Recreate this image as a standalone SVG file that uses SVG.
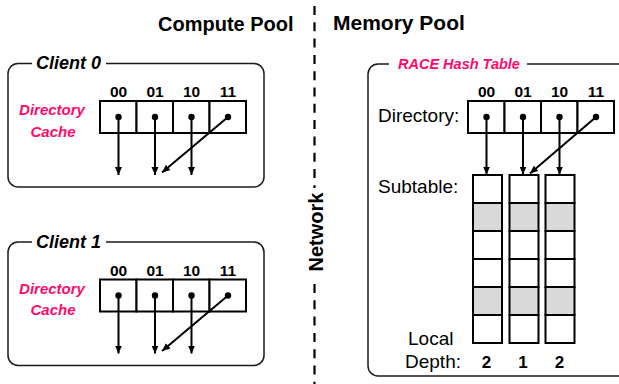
<svg xmlns="http://www.w3.org/2000/svg" width="619" height="384" viewBox="0 0 619 384">
  <defs>
    <marker id="arrow" markerUnits="userSpaceOnUse" markerWidth="9" markerHeight="8" refX="8" refY="3.5" orient="auto">
      <path d="M0,0 L8,3.5 L0,7 z" fill="#000"/>
    </marker>
    <style>
      text { font-family: "Liberation Sans", Arial, sans-serif; fill: #000; }
      .title { font-size: 20px; font-weight: bold; }
      .frame { fill: none; stroke: #1a1a1a; stroke-width: 1.5; }
      .label { font-size: 18px; font-weight: bold; font-style: italic; }
      .pink { fill: #ff0a6c; font-size: 15px; font-weight: bold; font-style: italic; }
      .bits { font-size: 15.5px; font-weight: bold; text-anchor: middle; }
      .plain { font-size: 19px; }
      .cell { fill: #fff; stroke: #000; stroke-width: 2; }
      .shade { fill: #d9d9d9; stroke: #000; stroke-width: 2; }
      .dot { fill: #000; }
      .ptr { stroke: #000; stroke-width: 2; fill: none; marker-end: url(#arrow); }
      .dash { stroke: #000; stroke-width: 2.2; stroke-dasharray: 9 7.3; }
    </style>
    <!-- four-slot directory cache with its pointer dots -->
    <g id="dirRow">
      <rect class="cell" x="100" y="101" width="36.5" height="32"/>
      <rect class="cell" x="136.5" y="101" width="36.5" height="32"/>
      <rect class="cell" x="173" y="101" width="36.5" height="32"/>
      <rect class="cell" x="209.5" y="101" width="36.5" height="32"/>
      <circle class="dot" cx="118.5" cy="117" r="3.2"/>
      <circle class="dot" cx="155" cy="117" r="3.2"/>
      <circle class="dot" cx="191.5" cy="117" r="3.2"/>
      <circle class="dot" cx="228" cy="117" r="3.2"/>
      <text class="bits" x="118.5" y="97">00</text>
      <text class="bits" x="155" y="97">01</text>
      <text class="bits" x="191.5" y="97">10</text>
      <text class="bits" x="228" y="97">11</text>
    </g>
  </defs>

  <!-- pool headings -->
  <text class="title" x="158" y="31">Compute Pool</text>
  <text class="title" x="333" y="30" style="font-size:21px">Memory Pool</text>

  <!-- network divider -->
  <g id="network">
    <line class="dash" x1="314.5" y1="6" x2="314.5" y2="188"/>
    <line class="dash" x1="314.5" y1="284" x2="314.5" y2="384"/>
    <text class="title" transform="translate(323,232) rotate(-90)" text-anchor="middle">Network</text>
  </g>

  <!-- client 0 -->
  <g id="client0">
    <path class="frame" d="M106,63.5 H254 A10,10 0 0 1 264,73.5 V177 A10,10 0 0 1 254,187 H18 A10,10 0 0 1 8,177 V73.5 A10,10 0 0 1 18,63.5 H32"/>
    <text class="label" x="36" y="69">Client 0</text>
    <text class="pink" x="52" y="115" text-anchor="middle">Directory</text>
    <text class="pink" x="53" y="136.5" text-anchor="middle">Cache</text>
    <use href="#dirRow"/>
  </g>

  <!-- client 1 -->
  <g id="client1">
    <path class="frame" d="M106,242 H254 A10,10 0 0 1 264,252 V355.5 A10,10 0 0 1 254,365.5 H18 A10,10 0 0 1 8,355.5 V252 A10,10 0 0 1 18,242 H32"/>
    <text class="label" x="36" y="247.5">Client 1</text>
    <text class="pink" x="52" y="293.5" text-anchor="middle">Directory</text>
    <text class="pink" x="53" y="315" text-anchor="middle">Cache</text>
    <use href="#dirRow" transform="translate(0,178.5)"/>
  </g>

  <!-- RACE hash table in the memory pool -->
  <g id="race">
    <path class="frame" d="M527,64 H630 V376 H378 A10,10 0 0 1 368,366 V74 A10,10 0 0 1 378,64 H389"/>
    <text class="pink" x="398" y="68.5" style="font-size:14.5px">RACE Hash Table</text>
  </g>

  <g id="directory">
    <text class="plain" x="378" y="122">Directory:</text>
    <use href="#dirRow" transform="translate(368,0)"/>
  </g>

  <g id="subtables">
    <text class="plain" x="378" y="193">Subtable:</text>
    <g id="sub0">
      <rect class="cell" x="473" y="175" width="29" height="28"/>
      <rect class="shade" x="473" y="203" width="29" height="28"/>
      <rect class="cell" x="473" y="231" width="29" height="28"/>
      <rect class="cell" x="473" y="259" width="29" height="28"/>
      <rect class="shade" x="473" y="287" width="29" height="28"/>
      <rect class="cell" x="473" y="315" width="29" height="28"/>
    </g>
    <g id="sub1">
      <rect class="cell" x="509.5" y="175" width="29" height="28"/>
      <rect class="shade" x="509.5" y="203" width="29" height="28"/>
      <rect class="cell" x="509.5" y="231" width="29" height="28"/>
      <rect class="cell" x="509.5" y="259" width="29" height="28"/>
      <rect class="shade" x="509.5" y="287" width="29" height="28"/>
      <rect class="cell" x="509.5" y="315" width="29" height="28"/>
    </g>
    <g id="sub2">
      <rect class="cell" x="545.5" y="175" width="29" height="28"/>
      <rect class="shade" x="545.5" y="203" width="29" height="28"/>
      <rect class="cell" x="545.5" y="231" width="29" height="28"/>
      <rect class="cell" x="545.5" y="259" width="29" height="28"/>
      <rect class="shade" x="545.5" y="287" width="29" height="28"/>
      <rect class="cell" x="545.5" y="315" width="29" height="28"/>
    </g>
    <text class="plain" x="408" y="345">Local</text>
    <text class="plain" x="405" y="368">Depth:</text>
    <text class="bits" x="486.5" y="368" style="font-size:17px">2</text>
    <text class="bits" x="523" y="368" style="font-size:17px">1</text>
    <text class="bits" x="559.5" y="368" style="font-size:17px">2</text>
  </g>

  <!-- directory pointers -->
  <g id="connectors">
    <line class="ptr" x1="118.5" y1="117" x2="118.5" y2="175"/>
    <line class="ptr" x1="155" y1="117" x2="155" y2="175"/>
    <line class="ptr" x1="191.5" y1="117" x2="191.5" y2="175"/>
    <line class="ptr" x1="228" y1="117" x2="162" y2="172.5"/>

    <line class="ptr" x1="118.5" y1="295.5" x2="118.5" y2="353.5"/>
    <line class="ptr" x1="155" y1="295.5" x2="155" y2="353.5"/>
    <line class="ptr" x1="191.5" y1="295.5" x2="191.5" y2="353.5"/>
    <line class="ptr" x1="228" y1="295.5" x2="162" y2="351"/>

    <line class="ptr" x1="486.5" y1="117" x2="486.5" y2="174.5"/>
    <line class="ptr" x1="523" y1="117" x2="523" y2="174.5"/>
    <line class="ptr" x1="559.5" y1="117" x2="559.5" y2="174.5"/>
    <line class="ptr" x1="596" y1="117" x2="530" y2="173.5"/>
  </g>
</svg>
